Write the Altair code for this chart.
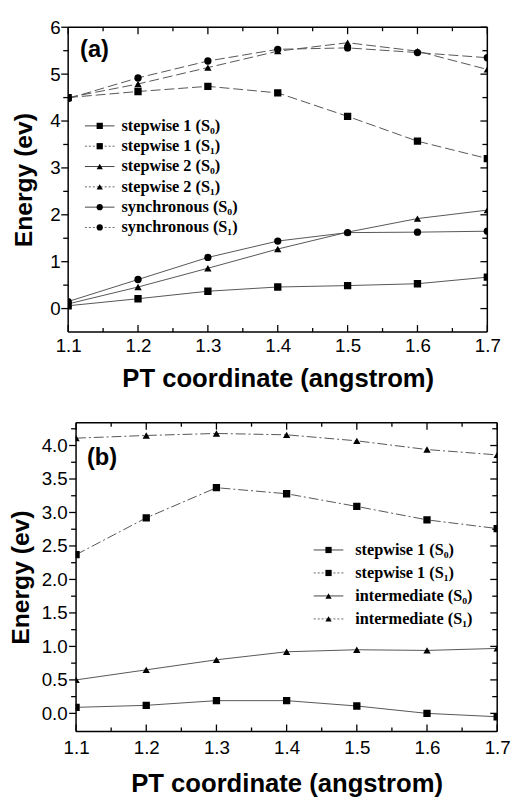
import altair as alt
import pandas as pd

# ---------------- data ----------------
x_vals = [1.1, 1.2, 1.3, 1.4, 1.5, 1.6, 1.7]

# panel (a)
a_sw1_s0 = [0.06, 0.21, 0.37, 0.46, 0.49, 0.53, 0.67]
a_sw1_s1 = [4.50, 4.63, 4.74, 4.60, 4.10, 3.57, 3.20]
a_sw2_s0 = [0.10, 0.46, 0.86, 1.27, 1.63, 1.92, 2.10]
a_sw2_s1 = [4.50, 4.79, 5.14, 5.49, 5.67, 5.49, 5.10]
a_syn_s0 = [0.15, 0.62, 1.09, 1.44, 1.62, 1.63, 1.65]
a_syn_s1 = [4.48, 4.92, 5.28, 5.53, 5.56, 5.46, 5.35]

# panel (b)
b_sw1_s0 = [0.09, 0.12, 0.19, 0.19, 0.11, 0.00, -0.05]
b_sw1_s1 = [2.37, 2.92, 3.37, 3.28, 3.09, 2.89, 2.76]
b_int_s0 = [0.50, 0.65, 0.80, 0.92, 0.95, 0.94, 0.97]
b_int_s1 = [4.11, 4.15, 4.18, 4.16, 4.07, 3.94, 3.86]

a_labels = ["stepwise 1 (S\u2080)", "stepwise 1 (S\u2081)", "stepwise 2 (S\u2080)",
            "stepwise 2 (S\u2081)", "synchronous (S\u2080)", "synchronous (S\u2081)"]
a_shapes = ["square", "square", "triangle-up", "triangle-up", "circle", "circle"]
a_states = ["S0", "S1", "S0", "S1", "S0", "S1"]
a_series = [a_sw1_s0, a_sw1_s1, a_sw2_s0, a_sw2_s1, a_syn_s0, a_syn_s1]

b_labels = ["stepwise 1 (S\u2080)", "stepwise 1 (S\u2081)",
            "intermediate (S\u2080)", "intermediate (S\u2081)"]
b_shapes = ["square", "square", "triangle-up", "triangle-up"]
b_states = ["S0", "S1", "S0", "S1"]
b_series = [b_sw1_s0, b_sw1_s1, b_int_s0, b_int_s1]

x_major = [1.1, 1.2, 1.3, 1.4, 1.5, 1.6, 1.7]
x_minor = [1.15, 1.25, 1.35, 1.45, 1.55, 1.65]
a_y_major = [0, 1, 2, 3, 4, 5, 6]
a_y_minor = [0.5, 1.5, 2.5, 3.5, 4.5, 5.5]
b_y_major = [0.0, 0.5, 1.0, 1.5, 2.0, 2.5, 3.0, 3.5, 4.0]
b_y_minor = [0.25, 0.75, 1.25, 1.75, 2.25, 2.75, 3.25, 3.75, 4.25]

SANS = "Liberation Sans"
SERIF = "Liberation Serif"
LINE = "#555555"


def panel(labels, shapes, states, series, W, H, ydom, ymaj, ymin, yfmt,
          tag, tag_px, leg_sym_px, leg_txt_px, leg_y0, leg_step, s1dash,
          title_pad, y_label_pad, x_label_pad, x_title_pad, left_ext):
    # W is the framed width; left_ext extra pixels of plot area left of the frame
    dx = 0.6 / W
    dy = (ydom[1] - ydom[0]) / H
    xdom = [1.1 - left_ext * dx, 1.7]
    x0, x1 = 1.1, 1.7

    def px2x(px):       # px measured from the frame's left edge
        return x0 + px * dx

    def py2y(py):
        return ydom[1] - py * dy

    rows = []
    for lab, shp, st, vals in zip(labels, shapes, states, series):
        for xv, yv in zip(x_vals, vals):
            rows.append({"series": lab, "shape": shp, "state": st, "x": xv, "y": yv})
    df = pd.DataFrame(rows)

    xs = alt.Scale(domain=xdom, nice=False, zero=False)
    ys = alt.Scale(domain=ydom, nice=False, zero=False)
    shape_scale = alt.Scale(domain=["square", "triangle-up", "circle"],
                            range=["square", "triangle-up", "circle"])

    xenc = alt.X("x:Q", scale=xs, axis=alt.Axis(
        values=x_major, tickCount=40, format=".1f", title="PT coordinate (angstrom)",
        labelFont=SANS, labelFontSize=19, labelColor="black", labelPadding=x_label_pad,
        labelFlush=False, labelOverlap=False,
        titleFont=SANS, titleFontSize=26, titleFontWeight="bold", titleColor="black",
        titleAnchor="middle", titleX=left_ext + W / 2,
        titlePadding=x_title_pad, ticks=False, tickSize=0, domain=False, grid=False))
    yenc = alt.Y("y:Q", scale=ys, axis=alt.Axis(
        values=ymaj, tickCount=40, format=yfmt, title="Energy (ev)",
        labelFont=SANS, labelFontSize=19, labelColor="black", labelPadding=y_label_pad,
        labelFlush=False, labelOverlap=False,
        titleFont=SANS, titleFontSize=25, titleFontWeight="bold", titleColor="black",
        titlePadding=title_pad, ticks=False, tickSize=0, domain=False, grid=False))

    base = alt.Chart(df)
    line0 = base.transform_filter(alt.datum.state == "S0").mark_line(
        color=LINE, strokeWidth=1, clip=True).encode(x=xenc, y=yenc, detail="series:N")
    line1 = base.transform_filter(alt.datum.state == "S1").mark_line(
        color=LINE, strokeWidth=1, strokeDash=s1dash, clip=True).encode(
        x="x:Q", y="y:Q", detail="series:N")
    pts = base.mark_point(filled=True, color="black", opacity=1, size=55, clip=True).encode(
        x="x:Q", y="y:Q",
        shape=alt.Shape("shape:N", scale=shape_scale, legend=None))

    layers = [line0, line1, pts]

    if left_ext > 0:
        mask = alt.Chart(pd.DataFrame({"x": [xdom[0]], "x2": [x0 - 0.5 * dx],
                                       "y": [ydom[0]], "y2": [ydom[1]]})).mark_rect(
            color="white").encode(x="x:Q", x2="x2:Q", y="y:Q", y2="y2:Q")
        layers.append(mask)

    # frame + ticks: segments built from the tick arrays, in data units
    seg = [
        {"x": x0, "x2": x1, "y": ydom[0], "y2": ydom[0]},
        {"x": x0, "x2": x1, "y": ydom[1], "y2": ydom[1]},
        {"x": x0, "x2": x0, "y": ydom[0], "y2": ydom[1]},
        {"x": x1, "x2": x1, "y": ydom[0], "y2": ydom[1]},
    ]
    frame = alt.Chart(pd.DataFrame(seg)).mark_rule(color="black", strokeWidth=1.5).encode(
        x="x:Q", x2="x2:Q", y="y:Q", y2="y2:Q")
    tk = []
    for vals, ln in ((x_major, 7), (x_minor, 4)):
        for v in vals:
            tk.append({"x": v, "x2": v, "y": ydom[0], "y2": ydom[0] + ln * dy})
            tk.append({"x": v, "x2": v, "y": ydom[1], "y2": ydom[1] - ln * dy})
    for vals, ln in ((ymaj, 7), (ymin, 5)):
        for v in vals:
            tk.append({"x": x0 - ln * dx, "x2": x0, "y": v, "y2": v})
            tk.append({"x": x1 - ln * dx, "x2": x1, "y": v, "y2": v})
    ticks = alt.Chart(pd.DataFrame(tk)).mark_rule(color="black", strokeWidth=1.3).encode(
        x="x:Q", x2="x2:Q", y="y:Q", y2="y2:Q")
    layers += [frame, ticks]

    # panel tag
    tag_layer = alt.Chart(pd.DataFrame({"t": [tag]})).mark_text(
        font=SANS, fontSize=24, fontWeight="bold", align="left", baseline="middle",
        color="black").encode(text="t:N", x=alt.value(left_ext + tag_px[0]),
                              y=alt.value(tag_px[1]))

    # legend
    n = len(labels)
    leg = pd.DataFrame({
        "label": labels, "shape": shapes, "state": states,
        "y": [py2y(leg_y0 + i * leg_step) for i in range(n)],
    })
    leg["x"] = px2x(leg_sym_px)
    leg["xa"] = px2x(leg_sym_px - 15)
    leg["xb"] = px2x(leg_sym_px + 15)
    leg["xt"] = px2x(leg_txt_px)
    lb = alt.Chart(leg)
    leg_l0 = lb.transform_filter(alt.datum.state == "S0").mark_rule(
        color="#444444", strokeWidth=1).encode(x="xa:Q", x2="xb", y="y:Q")
    leg_l1 = lb.transform_filter(alt.datum.state == "S1").mark_rule(
        color="#666666", strokeWidth=1, strokeDash=[2, 2]).encode(x="xa:Q", x2="xb", y="y:Q")
    leg_p = lb.mark_point(filled=True, color="black", opacity=1, size=40).encode(
        x="x:Q", y="y:Q", shape=alt.Shape("shape:N", scale=shape_scale, legend=None))
    leg_t = lb.mark_text(font=SERIF, fontSize=16.5, fontWeight="bold", align="left",
                         baseline="middle", color="black").encode(
        x="xt:Q", y="y:Q", text="label:N")

    layers += [tag_layer, leg_l0, leg_l1, leg_p, leg_t]
    return alt.layer(*layers).properties(width=W + left_ext, height=H)


chart_a = panel(a_labels, a_shapes, a_states, a_series, 425, 309, [-0.5, 6.0],
                a_y_major, a_y_minor, "d", "(a)", (12, 23), 32, 54, 100, 20.6,
                [10, 4], 14, 8, 5, 10, 0)
chart_b = panel(b_labels, b_shapes, b_states, b_series, 427, 313, [-0.27, 4.34],
                b_y_major, b_y_minor, ".1f", "(b)", (11, 36), 256, 283, 129, 23.3,
                [10, 3, 2, 3], 8, 1, 7, 14, 8)

chart = alt.vconcat(chart_a, chart_b, spacing=31).properties(
    padding={"left": 0, "top": 5, "right": 0, "bottom": 0},
    background="white",
).configure_view(strokeWidth=0)

chart.save("out.html", embed_options={"renderer": "svg", "actions": False})
